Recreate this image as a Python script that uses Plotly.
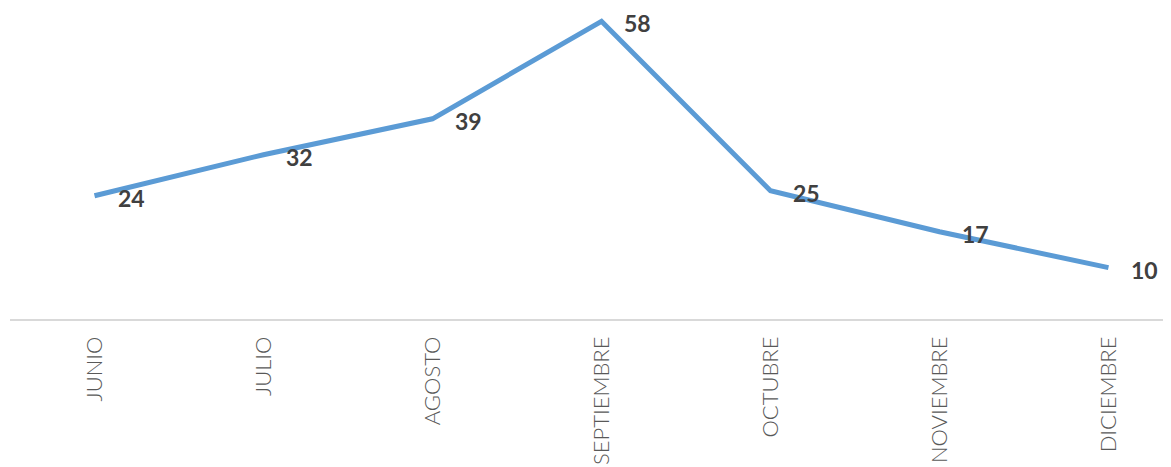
import plotly.graph_objects as go

months = ["JUNIO", "JULIO", "AGOSTO", "SEPTIEMBRE", "OCTUBRE", "NOVIEMBRE", "DICIEMBRE"]
values = [24, 32, 39, 58, 25, 17, 10]

fig = go.Figure()
fig.add_trace(go.Scatter(
    x=list(range(len(months))), y=values, mode="lines",
    line=dict(color="#5b9bd5", width=5), hoverinfo="skip", showlegend=False,
))

for i, v in enumerate(values):
    fig.add_annotation(
        x=i, y=v, text=f"<b>{v}</b>", showarrow=False,
        xanchor="left", yanchor="middle", xshift=21, yshift=-2,
        font=dict(family="Lato, 'Open Sans', sans-serif", size=23, color="#404040"),
    )

# the page body has an 8px default margin, so the figure is sized to end at the window edge
fig.update_layout(
    width=1163, height=459,
    margin=dict(l=2, r=0, t=3, b=148),
    paper_bgcolor="white", plot_bgcolor="white",
    xaxis=dict(
        range=[-0.5, 6.37], tickmode="array",
        tickvals=list(range(len(months))), ticktext=months,
        tickangle=-90, showgrid=False, zeroline=False, automargin=False,
        showline=True, linecolor="#d9d9d9", linewidth=1.5,
        ticks="", ticklabelstandoff=7,
        tickfont=dict(family="Lato, 'Open Sans', sans-serif", size=22, color="#595959", weight=300),
    ),
    yaxis=dict(range=[0, 60], visible=False, showgrid=False, zeroline=False, automargin=False),
)

fig.write_html("out.html")
